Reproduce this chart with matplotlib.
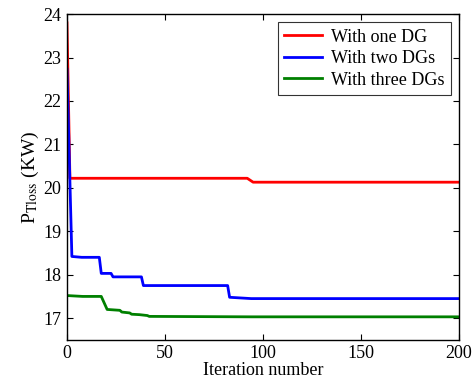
import numpy as np
import matplotlib.pyplot as plt

plt.rcParams['font.family'] = 'Liberation Serif'
plt.rcParams['mathtext.fontset'] = 'stix'

# best power loss (KW) recorded at the iterations where it changes
it_one = [0, 1.5, 92, 95, 200]
loss_one = [23.80, 20.22, 20.22, 20.13, 20.13]

it_two = [0, 2.5, 7.5, 16.5, 17.5, 22.5, 23.5, 38, 39, 82, 83, 94, 200]
loss_two = [22.73, 18.42, 18.40, 18.40, 18.03, 18.03, 17.95, 17.95, 17.75, 17.75, 17.48, 17.45, 17.45]

it_three = [0, 8, 17.5, 20.5, 27, 28, 32, 33, 37, 41, 42, 94, 200]
loss_three = [17.52, 17.50, 17.50, 17.20, 17.18, 17.14, 17.12, 17.09, 17.08, 17.06, 17.04, 17.03, 17.03]

fig = plt.figure(figsize=(4.75, 3.81), dpi=100)
ax = fig.add_axes([0.141, 0.108, 0.825, 0.855])

ax.plot(it_one, loss_one, color='#ff0000', lw=2, label='With one DG')
ax.plot(it_two, loss_two, color='#0000ff', lw=2, label='With two DGs')
ax.plot(it_three, loss_three, color='#008000', lw=2, label='With three DGs')

ax.set_xlim(0, 200)
ax.set_ylim(16.5, 24)
ax.set_xticks([0, 50, 100, 150, 200])
ax.set_yticks(np.arange(17, 25, 1))
ax.tick_params(direction='in', top=True, right=True, labelsize=13, length=4, pad=4)
for s in ax.spines.values():
    s.set_linewidth(1.0)

ax.set_xlabel('Iteration number', fontsize=13, labelpad=0)
ax.set_ylabel(r'P$_{\mathrm{Tloss}}$ (KW)', fontsize=14, labelpad=2)

leg = ax.legend(loc='upper right', fontsize=13, fancybox=False, edgecolor='black',
                handlelength=2.1, handletextpad=0.5, borderaxespad=0.45,
                labelspacing=0.25, borderpad=0.35)
leg.get_frame().set_linewidth(0.8)

fig.savefig('out.png', dpi=100)
